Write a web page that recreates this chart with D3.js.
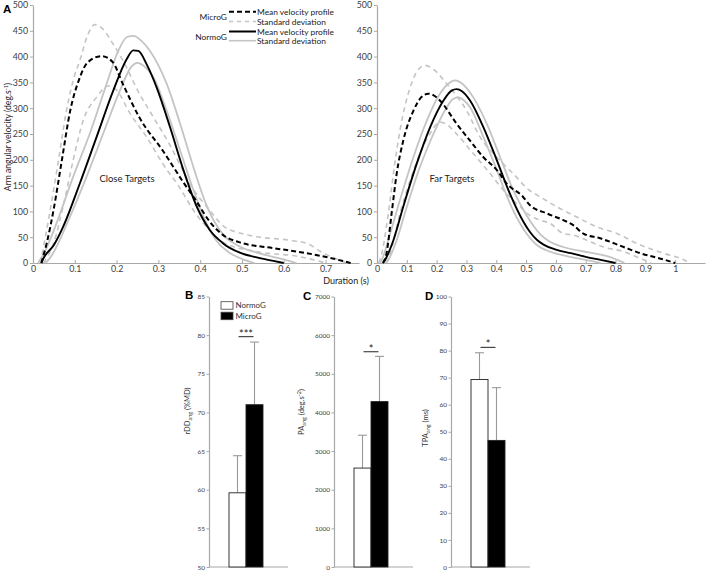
<!DOCTYPE html>
<html><head><meta charset="utf-8">
<script src="https://cdn.jsdelivr.net/npm/d3@7"></script>
<style>body{margin:0;background:#fff}svg{display:block;font-family:Lato,"Open Sans",sans-serif}</style>
</head><body><svg id="c" width="708" height="574"></svg>
<script>
// ---------- DATA ----------
// Velocity profiles [time (s), velocity (deg/s)]
const closeMicroMean = [[0.02,0],[0.033,39],[0.049,102],[0.069,199],[0.089,295],[0.11,355],[0.13,388],[0.164,401],[0.19,390],[0.216,345],[0.256,280],[0.312,216],[0.36,156],[0.39,121],[0.423,80],[0.455,54],[0.495,40],[0.574,29],[0.655,19],[0.71,10],[0.76,0]];
const closeMicroUp = [[0.018,0],[0.041,102],[0.061,199],[0.08,295],[0.1,365],[0.112,392],[0.13,440],[0.148,462],[0.165,455],[0.192,424],[0.22,385],[0.25,335],[0.29,280],[0.33,225],[0.35,193],[0.375,154],[0.423,102],[0.455,72],[0.5,57],[0.535,51],[0.615,44],[0.655,38],[0.695,19],[0.72,10],[0.75,0]];
const closeMicroLo = [[0.025,0],[0.05,40],[0.075,120],[0.096,199],[0.12,276],[0.152,321],[0.18,343],[0.2,335],[0.232,290],[0.272,244],[0.31,193],[0.35,147],[0.39,95],[0.41,75],[0.455,40],[0.535,22],[0.64,12],[0.7,0]];
const closeNormoMean = [[0.02,0],[0.025,9],[0.05,35],[0.072,70],[0.112,154],[0.152,244],[0.192,334],[0.224,395],[0.24,412],[0.252,411],[0.272,385],[0.296,340],[0.328,263],[0.36,180],[0.392,109],[0.423,64],[0.455,38],[0.495,20],[0.54,10],[0.575,4],[0.6,0]];
const closeNormoUp = [[0.012,0],[0.03,25],[0.053,70],[0.096,167],[0.136,251],[0.176,347],[0.204,411],[0.225,438],[0.24,440],[0.26,430],[0.28,411],[0.32,347],[0.352,270],[0.39,170],[0.415,112],[0.455,55],[0.495,32],[0.54,19],[0.6,7],[0.63,0]];
const closeNormoLo = [[0.03,0],[0.04,9],[0.088,89],[0.128,167],[0.168,251],[0.208,334],[0.235,380],[0.25,388],[0.265,382],[0.288,360],[0.32,295],[0.352,218],[0.384,141],[0.415,77],[0.44,42],[0.47,20],[0.5,8],[0.53,0]];

const farMicroMean = [[0.02,0],[0.032,19],[0.049,96],[0.066,173],[0.088,237],[0.122,295],[0.15,322],[0.172,328],[0.19,325],[0.211,315],[0.267,270],[0.312,237],[0.357,205],[0.402,180],[0.435,154],[0.49,128],[0.513,112],[0.57,96],[0.625,83],[0.659,73],[0.692,57],[0.748,48],[0.827,31],[0.883,19],[0.96,7],[1.0,0]];
const farMicroUp = [[0.005,0],[0.01,6],[0.038,96],[0.055,173],[0.077,257],[0.111,340],[0.135,372],[0.161,383],[0.19,375],[0.234,347],[0.301,295],[0.346,244],[0.402,205],[0.457,173],[0.513,140],[0.536,132],[0.603,109],[0.67,89],[0.737,70],[0.805,57],[0.871,38],[0.96,19],[1.03,6],[1.05,0]];
const farMicroLo = [[0.03,0],[0.044,19],[0.077,96],[0.111,160],[0.144,212],[0.178,251],[0.211,273],[0.235,268],[0.267,250],[0.323,212],[0.38,173],[0.424,141],[0.48,109],[0.513,92],[0.547,83],[0.58,77],[0.625,57],[0.659,54],[0.704,44],[0.76,31],[0.827,22],[0.883,9],[0.92,0]];
const farNormoMean = [[0.02,0],[0.027,6],[0.055,44],[0.088,109],[0.133,192],[0.178,263],[0.223,315],[0.25,334],[0.267,337],[0.285,333],[0.312,315],[0.357,263],[0.402,199],[0.446,134],[0.491,80],[0.513,60],[0.536,45],[0.56,35],[0.6,26],[0.65,19],[0.7,12],[0.75,6],[0.8,0]];
const farNormoUp = [[0.01,0],[0.016,6],[0.044,57],[0.077,122],[0.122,205],[0.167,276],[0.211,328],[0.24,348],[0.262,354],[0.285,348],[0.323,321],[0.368,270],[0.413,205],[0.457,141],[0.502,92],[0.547,56],[0.58,41],[0.625,31],[0.715,20],[0.78,12],[0.83,0]];
const farNormoLo = [[0.03,0],[0.038,6],[0.066,44],[0.1,109],[0.144,186],[0.189,250],[0.234,302],[0.255,318],[0.273,321],[0.292,315],[0.312,302],[0.357,244],[0.402,180],[0.446,115],[0.491,66],[0.536,35],[0.58,22],[0.64,13],[0.7,6],[0.75,0]];

const velTicks = [0,50,100,150,200,250,300,350,400,450,500];
const closeTimeTicks = [0,0.1,0.2,0.3,0.4,0.5,0.6,0.7];
const farTimeTicks = [0,0.1,0.2,0.3,0.4,0.5,0.6,0.7,0.8,0.9,1];

// Bar panels
const groups = ["NormoG","MicroG"];
const rddMean = [59.6, 71.0];
const rddSD = [4.8, 8.1];
const paMean = [2560, 4280];
const paSD = [850, 1170];
const tpaMean = [69.3, 46.8];
const tpaSD = [9.9, 19.5];
const rddTicks = [50,55,60,65,70,75,80,85];
const paTicks = [0,1000,2000,3000,4000,5000,6000,7000];
const tpaTicks = [0,10,20,30,40,50,60,70,80,90,100];
const sigLabels = ["***","*","*"];
const sigLevels = [79.8, 5570, 81.2];

// ---------- DRAW ----------
const svg = d3.select("#c");
const axisCol = "#a8a8a8", textCol = "#404040";
const sdCol = "#c4c4c4";

function styleAxis(g, fs){
  g.select(".domain").attr("stroke", axisCol).attr("stroke-width",1.2);
  g.selectAll(".tick line").attr("stroke", axisCol);
  g.selectAll(".tick text").attr("fill", textCol).attr("font-size", fs).attr("font-family","Lato, sans-serif");
}

const yTop = d3.scaleLinear().domain([0,500]).range([263,5]);
const fmt = d => String(+d.toFixed(1));

function velPanel(x0, x1, xmax, ticks, series, title, tx, ty){
  const x = d3.scaleLinear().domain([0,xmax]).range([x0,x1]);
  const gy = svg.append("g").attr("transform",`translate(${x0},0)`)
    .call(d3.axisLeft(yTop).tickValues(velTicks).tickSize(3).tickSizeOuter(0).tickPadding(2));
  styleAxis(gy, 8.8);
  const gx = svg.append("g").attr("transform",`translate(0,263)`)
    .call(d3.axisBottom(x).tickValues(ticks).tickFormat(fmt).tickSize(-3).tickSizeOuter(0).tickPadding(3));
  styleAxis(gx, 8.8);
  const line = d3.line().x(d=>x(d[0])).y(d=>yTop(d[1])).curve(d3.curveMonotoneX);
  const [mm, mu, ml, nm, nu, nl] = series;
  [nu, nl].forEach(s => svg.append("path").attr("d", line(s)).attr("fill","none").attr("stroke", sdCol).attr("stroke-width",1.8));
  [mu, ml].forEach(s => svg.append("path").attr("d", line(s)).attr("fill","none").attr("stroke", sdCol).attr("stroke-width",1.6).attr("stroke-dasharray","5,4"));
  svg.append("path").attr("d", line(nm)).attr("fill","none").attr("stroke","#000").attr("stroke-width",1.9);
  svg.append("path").attr("d", line(mm)).attr("fill","none").attr("stroke","#000").attr("stroke-width",2).attr("stroke-dasharray","5,3");
  svg.append("text").attr("x",tx).attr("y",ty).attr("text-anchor","middle").attr("font-size",9.5).attr("fill","#222").text(title);
}

velPanel(33, 359, 0.78, closeTimeTicks, [closeMicroMean, closeMicroUp, closeMicroLo, closeNormoMean, closeNormoUp, closeNormoLo], "Close Targets", 127, 182);
velPanel(377, 705, 1.1, farTimeTicks, [farMicroMean, farMicroUp, farMicroLo, farNormoMean, farNormoUp, farNormoLo], "Far Targets", 452, 182);

// axis titles top
const yl = svg.append("text").attr("transform","translate(11,137) rotate(-90)").attr("text-anchor","middle").attr("font-size",8.6).attr("fill","#222");
yl.append("tspan").text("Arm angular velocity (deg.s");
yl.append("tspan").attr("font-size",5.5).attr("dy",-3.5).text("-1");
yl.append("tspan").attr("dy",3.5).text(")");
svg.append("text").attr("x",346).attr("y",284).attr("text-anchor","middle").attr("font-size",9).attr("fill","#222").text("Duration (s)");

// panel letters
[["A",3,13],["B",185,299],["C",303,300],["D",425,300]].forEach(([t,x,y]) =>
  svg.append("text").attr("x",x).attr("y",y).attr("font-family","Liberation Sans, Arial, sans-serif").attr("font-weight","bold").attr("font-size",11.5).text(t));

// legend top
const lg = svg.append("g").attr("font-size",8.4).attr("fill","#222");
const legRows = [
  {y:11.7, dash:"5,3", col:"#000", w:2, label:"Mean velocity profile"},
  {y:21.5, dash:"4,4", col:sdCol, w:1.6, label:"Standard deviation"},
  {y:31.5, dash:null, col:"#000", w:2, label:"Mean velocity profile"},
  {y:40.7, dash:null, col:sdCol, w:1.6, label:"Standard deviation"}
];
legRows.forEach(r => {
  const l = lg.append("line").attr("x1",229).attr("x2",256).attr("y1",r.y).attr("y2",r.y).attr("stroke",r.col).attr("stroke-width",r.w);
  if (r.dash) l.attr("stroke-dasharray", r.dash);
  lg.append("text").attr("x",257).attr("y",r.y+3).text(r.label);
});
lg.append("text").attr("x",227).attr("y",19.5).attr("text-anchor","end").text("MicroG");
lg.append("text").attr("x",227).attr("y",39.5).attr("text-anchor","end").text("NormoG");

// ---------- bar panels ----------
function barPanel(ax, domain, ticks, means, sds, sig, sigLevel, labelParts, lx, ly){
  const y = d3.scaleLinear().domain(domain).range([567,296.5]);
  const x = d3.scaleBand().domain(groups).range([ax+20, ax+54]).padding(0);
  const gy = svg.append("g").attr("transform",`translate(${ax},0)`)
    .call(d3.axisLeft(y).tickValues(ticks).tickFormat(d3.format("d")).tickSize(2.5).tickSizeOuter(0).tickPadding(1.5));
  styleAxis(gy, 6.5);
  svg.append("line").attr("x1",ax).attr("x2",ax+79).attr("y1",567).attr("y2",567).attr("stroke",axisCol).attr("stroke-width",1.2);
  groups.forEach((g,i) => {
    const cx = x(g) + x.bandwidth()/2;
    svg.append("line").attr("x1",cx).attr("x2",cx).attr("y1",y(means[i])).attr("y2",y(means[i]+sds[i])).attr("stroke","#999").attr("stroke-width",1.1);
    svg.append("line").attr("x1",cx-4.5).attr("x2",cx+4.5).attr("y1",y(means[i]+sds[i])).attr("y2",y(means[i]+sds[i])).attr("stroke","#999").attr("stroke-width",1.1);
    svg.append("rect").attr("x",x(g)).attr("width",x.bandwidth()).attr("y",y(means[i])).attr("height",567-y(means[i]))
      .attr("fill", i===0 ? "#fff" : "#000").attr("stroke","#222").attr("stroke-width",0.9);
  });
  const c0 = x(groups[0]) + x.bandwidth()/2, c1 = x(groups[1]) + x.bandwidth()/2;
  svg.append("line").attr("x1",c0+1).attr("x2",c1-1).attr("y1",y(sigLevel)).attr("y2",y(sigLevel)).attr("stroke","#222").attr("stroke-width",1);
  svg.append("text").attr("x",(c0+c1)/2).attr("y",y(sigLevel)+1).attr("text-anchor","middle").attr("font-size",11).attr("fill","#222").text(sig);
  const t = svg.append("text").attr("transform",`translate(${lx},${ly}) rotate(-90)`).attr("text-anchor","middle").attr("font-size",7.5).attr("fill","#333");
  labelParts.forEach(p => {
    const s = t.append("tspan").text(p.t);
    if (p.sub) s.attr("font-size",5.5).attr("dy",2);
    if (p.sup) s.attr("font-size",5.5).attr("dy",-3);
    if (p.dy) s.attr("dy", p.dy);
  });
}

barPanel(209, [50,85], rddTicks, rddMean, rddSD, sigLabels[0], sigLevels[0],
  [{t:"rDD"},{t:"ang",sub:true},{t:" (%MD)",dy:-2}], 190, 411);
barPanel(334, [0,7000], paTicks, paMean, paSD, sigLabels[1], sigLevels[1],
  [{t:"PA"},{t:"ang",sub:true},{t:" (deg.s",dy:-2},{t:"-2",sup:true},{t:")",dy:3}], 304, 412);
barPanel(451, [0,100], tpaTicks, tpaMean, tpaSD, sigLabels[2], sigLevels[2],
  [{t:"TPA"},{t:"ang",sub:true},{t:" (ms)",dy:-2}], 428, 428);

// legend in B
const bl = svg.append("g").attr("font-size",8).attr("fill","#333");
groups.forEach((g,i) => {
  bl.append("rect").attr("x",221).attr("y",301.7+i*10.5).attr("width",12).attr("height",7.5).attr("fill", i===0?"#fff":"#000").attr("stroke","#444").attr("stroke-width",0.8);
  bl.append("text").attr("x",235.5).attr("y",308.3+i*10.5).text(g);
});
</script></body></html>
